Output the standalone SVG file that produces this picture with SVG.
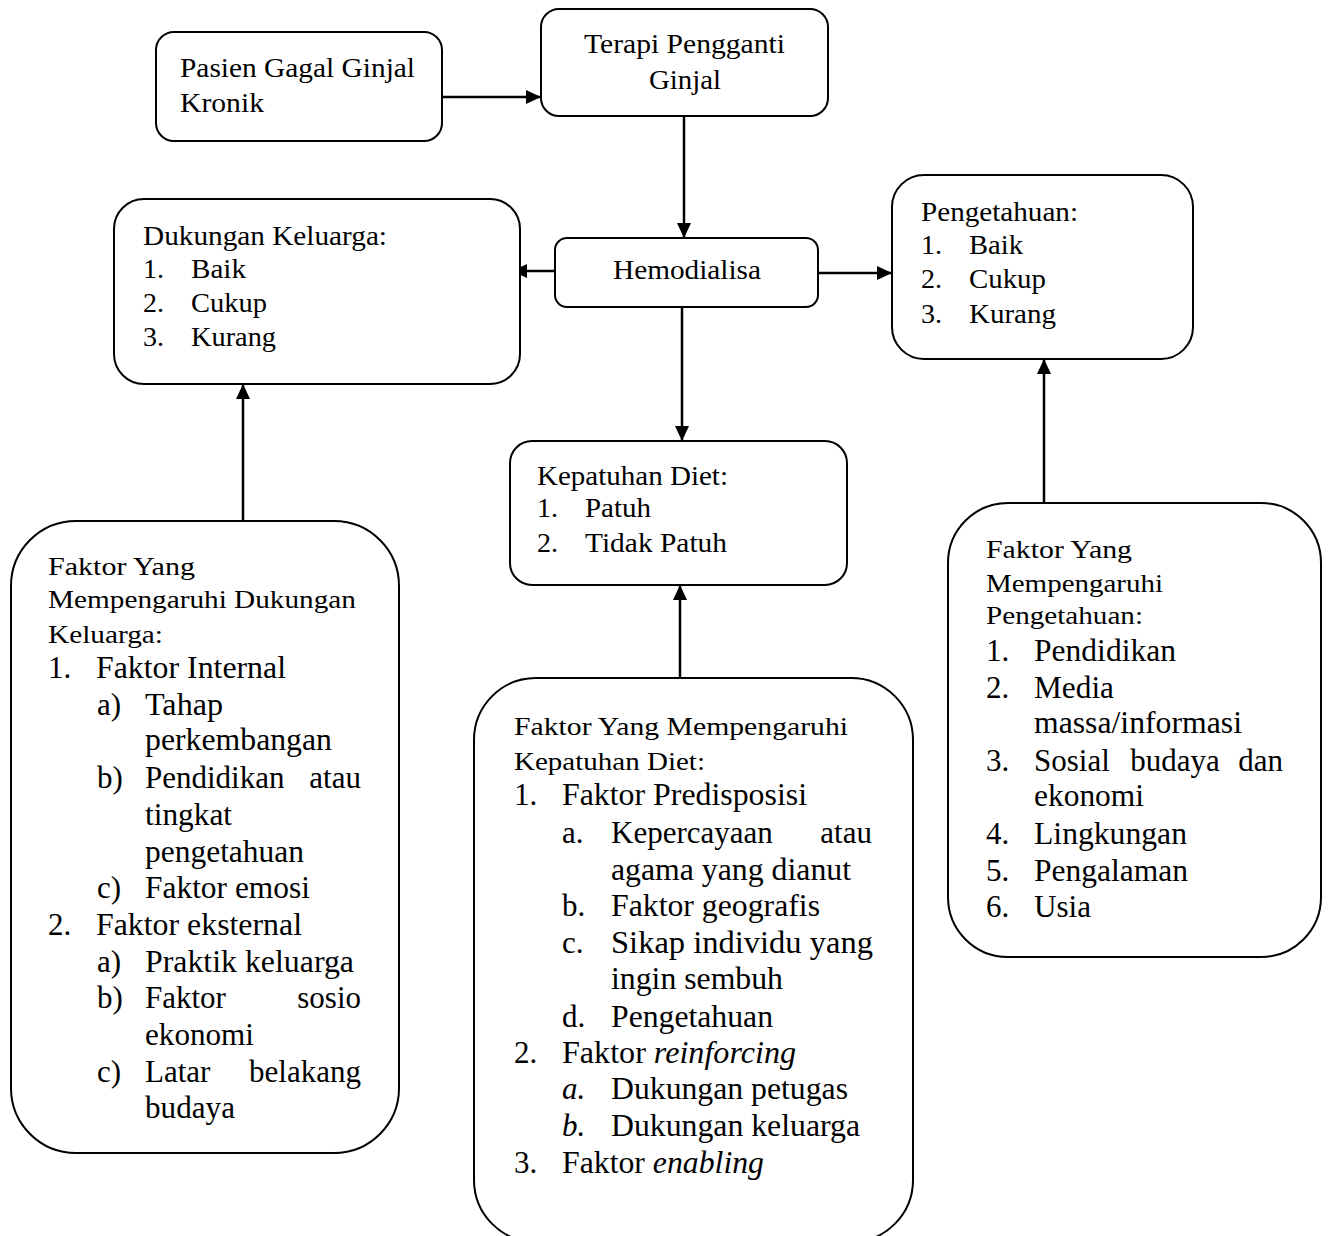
<svg xmlns="http://www.w3.org/2000/svg" width="1330" height="1236" viewBox="0 0 1330 1236">
<defs>
<marker id="ah" markerUnits="userSpaceOnUse" markerWidth="16" markerHeight="14" refX="15" refY="7" orient="auto">
<path d="M0,0 L15,7 L0,14 z" fill="#000"/>
</marker>
<style>
.box{fill:#fff;stroke:#000;stroke-width:2}
.t{font-family:"Liberation Serif","Times New Roman",serif;font-size:28px;fill:#000}
.h{font-family:"Liberation Serif","Times New Roman",serif;font-size:26px;fill:#000}
.l{font-family:"Liberation Serif","Times New Roman",serif;font-size:31px;fill:#000}
.i{font-style:italic}
.c{fill:none;stroke:#000;stroke-width:2.5;marker-end:url(#ah)}
</style>
</defs>
<rect width="1330" height="1236" fill="#fff"/>
<g id="connectors">
<path class="c" d="M442,97 H541"/>
<path class="c" d="M684,116 V238"/>
<path class="c" d="M555,271 H512"/>
<path class="c" d="M818,273 H892"/>
<path class="c" d="M682,307 V441"/>
<path class="c" d="M243,521 V384"/>
<path class="c" d="M680,678 V585"/>
<path class="c" d="M1044,503 V359"/>
</g>
<g id="pasien">
<rect class="box" x="156" y="32" width="286" height="109" rx="18"/>
<text class="t" x="180" y="77" textLength="235" lengthAdjust="spacingAndGlyphs">Pasien Gagal Ginjal</text>
<text class="t" x="180" y="112" textLength="84" lengthAdjust="spacingAndGlyphs">Kronik</text>
</g>
<g id="terapi">
<rect class="box" x="541" y="9" width="287" height="107" rx="18"/>
<text class="t" x="584" y="53" textLength="201" lengthAdjust="spacingAndGlyphs">Terapi Pengganti</text>
<text class="t" x="649" y="89" textLength="72" lengthAdjust="spacingAndGlyphs">Ginjal</text>
</g>
<g id="hemodialisa">
<rect class="box" x="555" y="238" width="263" height="69" rx="12"/>
<text class="t" x="613" y="279" textLength="148" lengthAdjust="spacingAndGlyphs">Hemodialisa</text>
</g>
<g id="dukungan">
<rect class="box" x="114" y="199" width="406" height="185" rx="30"/>
<text class="t" x="143" y="245" textLength="244" lengthAdjust="spacingAndGlyphs">Dukungan Keluarga:</text>
<text class="t" x="143" y="278">1.</text><text class="t" x="191" y="278" textLength="55" lengthAdjust="spacingAndGlyphs">Baik</text>
<text class="t" x="143" y="312">2.</text><text class="t" x="191" y="312" textLength="76" lengthAdjust="spacingAndGlyphs">Cukup</text>
<text class="t" x="143" y="346">3.</text><text class="t" x="191" y="346" textLength="85" lengthAdjust="spacingAndGlyphs">Kurang</text>
</g>
<g id="pengetahuan">
<rect class="box" x="892" y="175" width="301" height="184" rx="32"/>
<text class="t" x="921" y="221" textLength="157" lengthAdjust="spacingAndGlyphs">Pengetahuan:</text>
<text class="t" x="921" y="254">1.</text><text class="t" x="969" y="254" textLength="54" lengthAdjust="spacingAndGlyphs">Baik</text>
<text class="t" x="921" y="288">2.</text><text class="t" x="969" y="288" textLength="77" lengthAdjust="spacingAndGlyphs">Cukup</text>
<text class="t" x="921" y="323">3.</text><text class="t" x="969" y="323" textLength="87" lengthAdjust="spacingAndGlyphs">Kurang</text>
</g>
<g id="kepatuhan">
<rect class="box" x="510" y="441" width="337" height="144" rx="22"/>
<text class="t" x="537" y="485" textLength="191" lengthAdjust="spacingAndGlyphs">Kepatuhan Diet:</text>
<text class="t" x="537" y="517">1.</text><text class="t" x="585" y="517" textLength="66" lengthAdjust="spacingAndGlyphs">Patuh</text>
<text class="t" x="537" y="552">2.</text><text class="t" x="585" y="552" textLength="142" lengthAdjust="spacingAndGlyphs">Tidak Patuh</text>
</g>
<g id="faktor-dukungan">
<rect class="box" x="11" y="521" width="388" height="632" rx="65"/>
<text class="h" x="48" y="575" textLength="147" lengthAdjust="spacingAndGlyphs">Faktor Yang</text>
<text class="h" x="48" y="608" textLength="308" lengthAdjust="spacingAndGlyphs">Mempengaruhi Dukungan</text>
<text class="h" x="48" y="643" textLength="115" lengthAdjust="spacingAndGlyphs">Keluarga:</text>
<text class="l" x="48" y="678">1.</text><text class="l" x="96" y="678" textLength="190" lengthAdjust="spacingAndGlyphs">Faktor Internal</text>
<text class="l" x="97" y="715">a)</text><text class="l" x="145" y="715" textLength="78" lengthAdjust="spacingAndGlyphs">Tahap</text>
<text class="l" x="145" y="750" textLength="187" lengthAdjust="spacingAndGlyphs">perkembangan</text>
<text class="l" x="97" y="788">b)</text><text class="l" x="145" y="788">Pendidikan</text><text class="l" x="361" y="788" text-anchor="end">atau</text>
<text class="l" x="145" y="825" textLength="87" lengthAdjust="spacingAndGlyphs">tingkat</text>
<text class="l" x="145" y="862" textLength="159" lengthAdjust="spacingAndGlyphs">pengetahuan</text>
<text class="l" x="97" y="898">c)</text><text class="l" x="145" y="898" textLength="165" lengthAdjust="spacingAndGlyphs">Faktor emosi</text>
<text class="l" x="48" y="935">2.</text><text class="l" x="96" y="935" textLength="206" lengthAdjust="spacingAndGlyphs">Faktor eksternal</text>
<text class="l" x="97" y="972">a)</text><text class="l" x="145" y="972" textLength="209" lengthAdjust="spacingAndGlyphs">Praktik keluarga</text>
<text class="l" x="97" y="1008">b)</text><text class="l" x="145" y="1008">Faktor</text><text class="l" x="361" y="1008" text-anchor="end">sosio</text>
<text class="l" x="145" y="1045" textLength="109" lengthAdjust="spacingAndGlyphs">ekonomi</text>
<text class="l" x="97" y="1082">c)</text><text class="l" x="145" y="1082">Latar</text><text class="l" x="361" y="1082" text-anchor="end">belakang</text>
<text class="l" x="145" y="1118" textLength="90" lengthAdjust="spacingAndGlyphs">budaya</text>
</g>
<g id="faktor-kepatuhan">
<rect class="box" x="474" y="678" width="439" height="564" rx="62"/>
<text class="h" x="514" y="735" textLength="334" lengthAdjust="spacingAndGlyphs">Faktor Yang Mempengaruhi</text>
<text class="h" x="514" y="770" textLength="191" lengthAdjust="spacingAndGlyphs">Kepatuhan Diet:</text>
<text class="l" x="514" y="805">1.</text><text class="l" x="562" y="805" textLength="245" lengthAdjust="spacingAndGlyphs">Faktor Predisposisi</text>
<text class="l" x="562" y="843">a.</text><text class="l" x="611" y="843">Kepercayaan</text><text class="l" x="872" y="843" text-anchor="end">atau</text>
<text class="l" x="611" y="880" textLength="240" lengthAdjust="spacingAndGlyphs">agama yang dianut</text>
<text class="l" x="562" y="916">b.</text><text class="l" x="611" y="916" textLength="209" lengthAdjust="spacingAndGlyphs">Faktor geografis</text>
<text class="l" x="562" y="953">c.</text><text class="l" x="611" y="953" textLength="262" lengthAdjust="spacingAndGlyphs">Sikap individu yang</text>
<text class="l" x="611" y="989" textLength="172" lengthAdjust="spacingAndGlyphs">ingin sembuh</text>
<text class="l" x="562" y="1027">d.</text><text class="l" x="611" y="1027" textLength="162" lengthAdjust="spacingAndGlyphs">Pengetahuan</text>
<text class="l" x="514" y="1063">2.</text><text class="l" x="562" y="1063" textLength="234" lengthAdjust="spacingAndGlyphs">Faktor <tspan class="i">reinforcing</tspan></text>
<text class="l i" x="562" y="1099">a.</text><text class="l" x="611" y="1099" textLength="237" lengthAdjust="spacingAndGlyphs">Dukungan petugas</text>
<text class="l i" x="562" y="1136">b.</text><text class="l" x="611" y="1136" textLength="249" lengthAdjust="spacingAndGlyphs">Dukungan keluarga</text>
<text class="l" x="514" y="1173">3.</text><text class="l" x="562" y="1173" textLength="202" lengthAdjust="spacingAndGlyphs">Faktor <tspan class="i">enabling</tspan></text>
</g>
<g id="faktor-pengetahuan">
<rect class="box" x="948" y="503" width="373" height="454" rx="60"/>
<text class="h" x="986" y="558" textLength="146" lengthAdjust="spacingAndGlyphs">Faktor Yang</text>
<text class="h" x="986" y="592" textLength="177" lengthAdjust="spacingAndGlyphs">Mempengaruhi</text>
<text class="h" x="986" y="624" textLength="157" lengthAdjust="spacingAndGlyphs">Pengetahuan:</text>
<text class="l" x="986" y="661">1.</text><text class="l" x="1034" y="661" textLength="142" lengthAdjust="spacingAndGlyphs">Pendidikan</text>
<text class="l" x="986" y="698">2.</text><text class="l" x="1034" y="698" textLength="80" lengthAdjust="spacingAndGlyphs">Media</text>
<text class="l" x="1034" y="733" textLength="208" lengthAdjust="spacingAndGlyphs">massa/informasi</text>
<text class="l" x="986" y="771">3.</text><text class="l" x="1034" y="771">Sosial</text><text class="l" x="1175" y="771" text-anchor="middle">budaya</text><text class="l" x="1283" y="771" text-anchor="end">dan</text>
<text class="l" x="1034" y="806" textLength="110" lengthAdjust="spacingAndGlyphs">ekonomi</text>
<text class="l" x="986" y="844">4.</text><text class="l" x="1034" y="844" textLength="153" lengthAdjust="spacingAndGlyphs">Lingkungan</text>
<text class="l" x="986" y="881">5.</text><text class="l" x="1034" y="881" textLength="154" lengthAdjust="spacingAndGlyphs">Pengalaman</text>
<text class="l" x="986" y="917">6.</text><text class="l" x="1034" y="917" textLength="57" lengthAdjust="spacingAndGlyphs">Usia</text>
</g>
</svg>
